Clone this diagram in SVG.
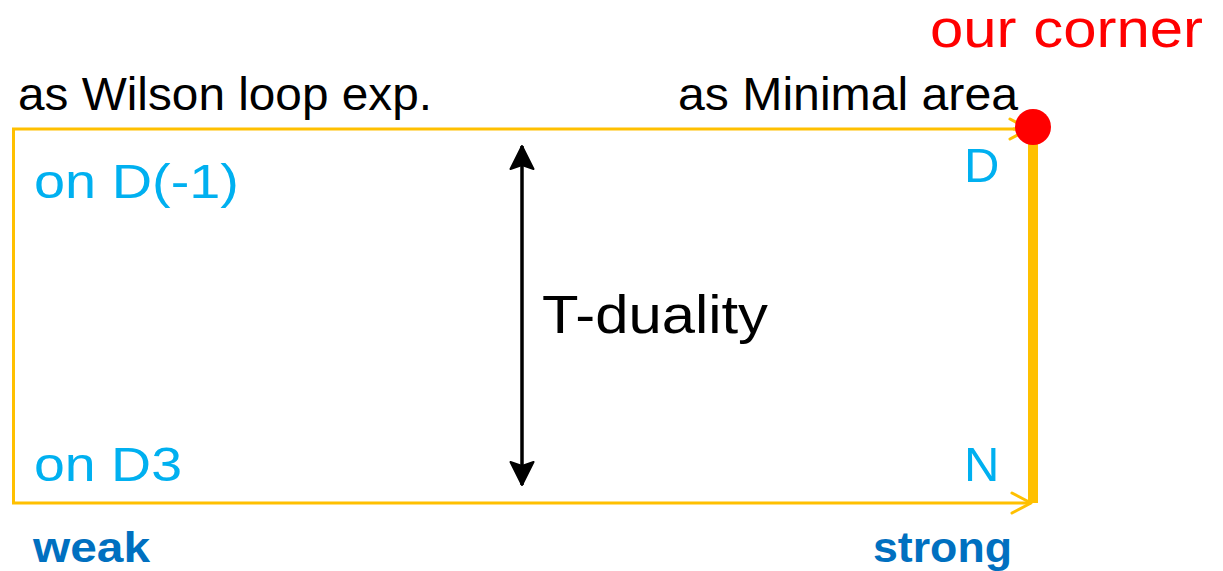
<svg xmlns="http://www.w3.org/2000/svg" width="1223" height="571" viewBox="0 0 1223 571">
<defs>
<style>
text{font-family:"Liberation Sans",Arial,sans-serif}
.blk{fill:#000000;font-size:47px}
.cyan{fill:#00B0F0;font-size:49px}
.bold{fill:#0070C0;font-size:43px;font-weight:bold}
.red{fill:#FF0000;font-size:53px}
.y{stroke:#FFC000;stroke-width:3;fill:none}
</style>
<marker id="chev" viewBox="0 0 24 24" markerWidth="24" markerHeight="24" refX="21" refY="12" orient="auto" markerUnits="userSpaceOnUse">
<path d="M2,2 L21,12 L2,22" fill="none" stroke="#FFC000" stroke-width="3" stroke-linecap="round" stroke-linejoin="round"/>
</marker>
<marker id="blkArrow" viewBox="0 0 26 26" markerWidth="26" markerHeight="26" refX="24" refY="13" orient="auto-start-reverse" markerUnits="userSpaceOnUse">
<path d="M24,13 L1,1.5 L5,13 L1,24.5 Z" fill="#000000" stroke="#000000" stroke-width="2" stroke-linejoin="round"/>
</marker>
</defs>
<rect width="1223" height="571" fill="#ffffff"/>
<g id="connectors">
<path class="y" d="M1030,129 L13.5,129 L13.5,503 L1031,503" marker-end="url(#chev)"/>
<line class="y" x1="1013" y1="129" x2="1029" y2="129" marker-end="url(#chev)"/>
<line x1="1033" y1="128" x2="1033" y2="503" stroke="#FFC000" stroke-width="10"/>
<line x1="522" y1="146" x2="522" y2="485" stroke="#000000" stroke-width="3.5" marker-start="url(#blkArrow)" marker-end="url(#blkArrow)"/>
</g>
<g id="corner">
<circle cx="1033" cy="127" r="18" fill="#FF0000"/>
<text class="red" x="930" y="47" textLength="273" lengthAdjust="spacingAndGlyphs">our corner</text>
</g>
<g id="label-wilson">
<text class="blk" x="18" y="110" textLength="414" lengthAdjust="spacingAndGlyphs">as Wilson loop exp.</text>
</g>
<g id="label-minimal">
<text class="blk" x="678" y="110" textLength="340" lengthAdjust="spacingAndGlyphs">as Minimal area</text>
</g>
<g id="label-dm1">
<text class="cyan" x="34" y="198" textLength="205" lengthAdjust="spacingAndGlyphs">on D(-1)</text>
</g>
<g id="label-D">
<text class="cyan" x="964" y="182">D</text>
</g>
<g id="label-tduality">
<text class="blk" x="542" y="333" style="font-size:53px" textLength="226" lengthAdjust="spacingAndGlyphs">T-duality</text>
</g>
<g id="label-d3">
<text class="cyan" x="34" y="481" textLength="148" lengthAdjust="spacingAndGlyphs">on D3</text>
</g>
<g id="label-N">
<text class="cyan" x="964" y="481">N</text>
</g>
<g id="label-weak">
<text class="bold" x="33" y="562" textLength="117" lengthAdjust="spacingAndGlyphs">weak</text>
</g>
<g id="label-strong">
<text class="bold" x="873" y="562" textLength="139" lengthAdjust="spacingAndGlyphs">strong</text>
</g>
</svg>
